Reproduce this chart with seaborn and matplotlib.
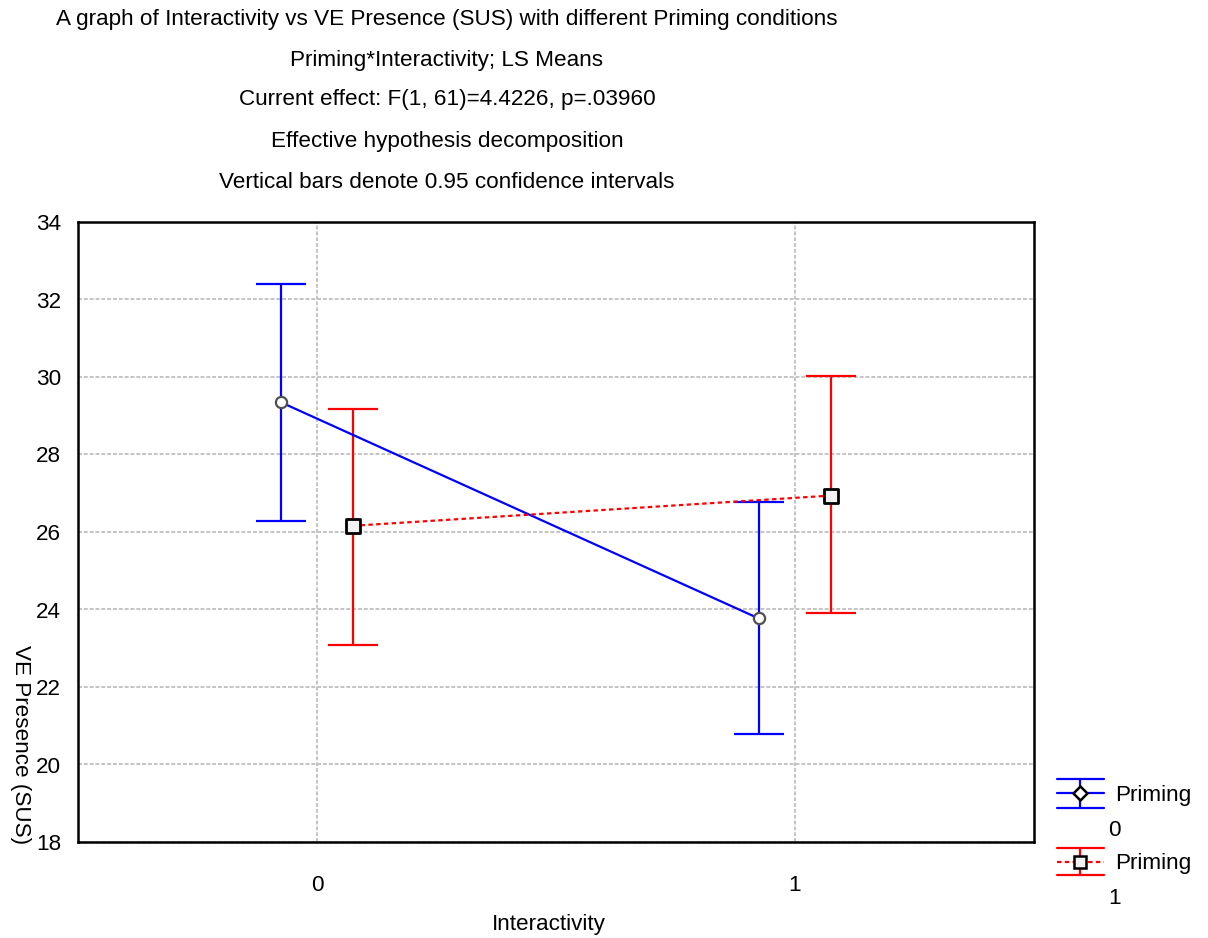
import numpy as np
import pandas as pd
import matplotlib
matplotlib.use("Agg")
import matplotlib.pyplot as plt
import seaborn as sns
from matplotlib.lines import Line2D

sns.set_style("white")
plt.rcParams['font.family'] = ['Liberation Sans', 'DejaVu Sans']
plt.rcParams.update({"text.color": "black", "xtick.color": "black",
                     "ytick.color": "black", "axes.labelcolor": "black"})

interactivity = [0, 1]
priming_levels = ["0", "1"]
mean_p0 = [29.35, 23.77]
upper_p0 = [32.40, 26.77]
lower_p0 = [26.29, 20.78]
mean_p1 = [26.16, 26.94]
upper_p1 = [29.17, 30.03]
lower_p1 = [23.08, 23.90]

title_lines = [
    "A graph of Interactivity vs VE Presence (SUS) with different Priming conditions",
    "Priming*Interactivity; LS Means",
    "Current effect: F(1, 61)=4.4226, p=.03960",
    "Effective hypothesis decomposition",
    "Vertical bars denote 0.95 confidence intervals",
]

offsets = {"0": -0.076, "1": 0.075}
colors = {"0": "#0000ff", "1": "#ff0000"}
FS = 16.2
W, H = 1208, 938

rows = []
for p, m, u, l in [("0", mean_p0, upper_p0, lower_p0), ("1", mean_p1, upper_p1, lower_p1)]:
    for x, mm, uu, ll in zip(interactivity, m, u, l):
        rows.append(dict(Priming=p, x=x + offsets[p], mean=mm, upper=uu, lower=ll))
df = pd.DataFrame(rows)

fig = plt.figure(figsize=(W / 100, H / 100), dpi=100)
ax = fig.add_axes([78 / W, (H - 842) / H, (1034 - 78) / W, (842 - 222) / H])

ax.set_axisbelow(True)
ax.grid(True, color="#c4c4c4", linestyle=(0, (2, 1)), linewidth=1.4)

d0 = df[df.Priming == "0"]
d1 = df[df.Priming == "1"]

ax.errorbar(d0.x, d0["mean"], yerr=[d0["mean"] - d0.lower, d0.upper - d0["mean"]],
            fmt="none", ecolor=colors["0"], elinewidth=1.6, capsize=18, capthick=1.6, zorder=2)
ax.errorbar(d1.x, d1["mean"], yerr=[d1["mean"] - d1.lower, d1.upper - d1["mean"]],
            fmt="none", ecolor=colors["1"], elinewidth=1.6, capsize=18, capthick=1.6, zorder=2)

sns.lineplot(data=d0, x="x", y="mean", ax=ax, color=colors["0"], linewidth=1.6,
             legend=False, zorder=3)
sns.lineplot(data=d1, x="x", y="mean", ax=ax, color=colors["1"], linewidth=1.6,
             linestyle=(0, (2, 1.5)), legend=False, zorder=3)
sns.scatterplot(data=d0, x="x", y="mean", ax=ax, marker="o", s=65, facecolor="white",
                edgecolor="#505050", linewidth=1.6, zorder=5, legend=False)
sns.scatterplot(data=d1, x="x", y="mean", ax=ax, marker="s", s=95, facecolor="#f2f2f2",
                edgecolor="black", linewidth=2, zorder=5, legend=False)

ax.set_xlim(-0.5, 1.5)
ax.set_ylim(18, 34)
ax.set_xticks(interactivity)
ax.set_xticklabels([str(v) for v in interactivity])
ax.set_yticks(np.arange(18, 35, 2))
ax.tick_params(axis="y", direction="out", length=3, width=1.5, labelsize=FS, pad=9)
ax.tick_params(axis="x", direction="in", length=5, width=1.5, labelsize=FS, pad=24)
for s in ax.spines.values():
    s.set_linewidth(1.8)
    s.set_color("black")

ax.set_xlabel("")
ax.set_ylabel("")
fig.text(549 / W, 1 - 924 / H, "Interactivity", fontsize=FS, ha="center", va="center")
fig.text(20 / W, 1 - 745 / H, "VE Presence (SUS)", rotation=-90, fontsize=FS,
         ha="center", va="center")

ys = [20, 60, 100, 142, 183]
for t, y in zip(title_lines, ys):
    fig.text(447 / W, 1 - y / H, t, ha="center", va="center", fontsize=FS)

# manual legend (pixel coordinates)
def P(x, y):
    return x / W, 1 - y / H

def leg_entry(color, ytop, ymid, ybot, ls, marker, ms, mfc, mec, label, num, ytext, ynum):
    x0, x1, xc = 1057, 1104, 1080
    for yy in (ytop, ybot):
        (a, b), (c, d) = P(x0, yy), P(x1, yy)
        fig.add_artist(Line2D([a, c], [b, d], color=color, lw=1.6, transform=fig.transFigure))
    (a, b), (c, d) = P(x0, ymid), P(x1, ymid)
    fig.add_artist(Line2D([a, c], [b, d], color=color, lw=1.6, ls=ls, transform=fig.transFigure))
    (a, b), (c, d) = P(xc, ytop), P(xc, ybot)
    fig.add_artist(Line2D([a, c], [b, d], color=color, lw=1.6, transform=fig.transFigure))
    a, b = P(xc, ymid)
    fig.add_artist(Line2D([a], [b], marker=marker, markersize=ms, markerfacecolor=mfc,
                          markeredgecolor=mec, markeredgewidth=1.8, linestyle="none",
                          transform=fig.transFigure))
    a, b = P(1115, ytext)
    fig.text(a, b, label, fontsize=FS, ha="left", va="center")
    a, b = P(1108, ynum)
    fig.text(a, b, num, fontsize=FS, ha="left", va="center")

leg_entry(colors["0"], 779, 793, 808, "-", "D", 7, "white", "black",
          "Priming", priming_levels[0], 796, 830)
leg_entry(colors["1"], 848, 862, 875, (0, (2, 1.5)), "s", 8, "#f2f2f2", "black",
          "Priming", priming_levels[1], 863, 898)

fig.savefig("out.png", dpi=100)
